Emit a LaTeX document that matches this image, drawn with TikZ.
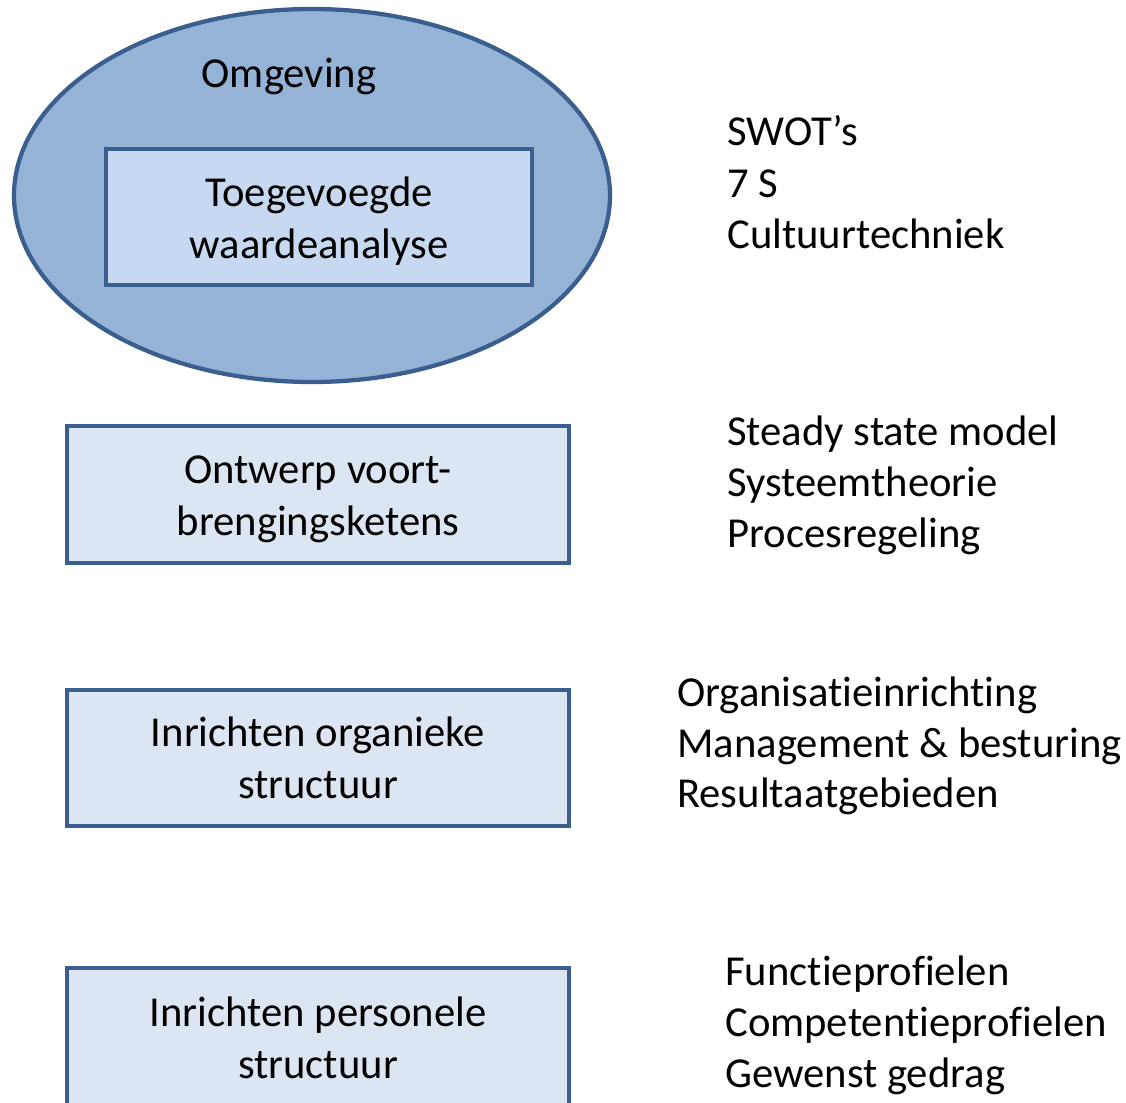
\documentclass[tikz,border=0pt]{standalone}
\usepackage{fontspec}
\setmainfont{Carlito}[Ligatures={NoCommon,NoRare}]
\usetikzlibrary{shapes.geometric}
\definecolor{edgeblue}{HTML}{3A5F8E}
\definecolor{ellfill}{HTML}{95B3D7}
\definecolor{innerfill}{HTML}{C6D9F1}
\definecolor{boxfill}{HTML}{DCE6F2}
\tikzset{
  bigtext/.style={font=\fontsize{32}{39}\selectfont},
  boxlabel/.style={bigtext, align=center, inner sep=0pt, yshift=-2.6pt},
  stepbox/.style={draw=edgeblue, line width=3.2pt, fill=boxfill, rectangle,
    minimum width=376.5pt, minimum height=102.75pt, inner sep=0pt},
  listitem/.style={anchor=base west, inner sep=0pt, bigtext},
}
\begin{document}
\begin{tikzpicture}[x=0.75pt, y=-0.75pt]
\useasboundingbox (0,0) rectangle (1126,1102);
% environment ellipse
\node[ellipse, draw=edgeblue, line width=3.2pt, fill=ellfill,
  minimum width=447pt, minimum height=279.75pt, inner sep=0pt] (omg) at (312,195.5) {};
\node[bigtext, anchor=base, inner sep=0pt] (omgtxt) at (289,87.5) {Omgeving};
\node[stepbox, fill=innerfill, minimum width=319.5pt, minimum height=102pt,
  label={[boxlabel, yshift=-0.6pt]center:Toegevoegde\\waardeanalyse}] (twa) at (319,217) {};
\node[stepbox, label={[boxlabel, yshift=-0.8pt]center:Ontwerp voort-\\brengingsketens}] (ovk) at (318,494.5) {};
\node[stepbox, minimum height=102pt,
  label={[boxlabel, yshift=2.4pt]center:Inrichten organieke\\structuur}] (ios) at (318,758) {};
\node[stepbox, label={[boxlabel, yshift=1.8pt]center:Inrichten personele\\structuur}] (ips) at (318,1036.5) {};
% right-hand lists
\node[listitem] (l1a) at (727,145.5) {SWOT’s};
\node[listitem] (l1b) at (727,197) {7 S};
\node[listitem] (l1c) at (727,248.5) {Cultuurtechniek};
\node[listitem] (l2a) at (727,445) {Steady state model};
\node[listitem] (l2b) at (727,496) {Systeemtheorie};
\node[listitem] (l2c) at (727,547.5) {Procesregeling};
\node[listitem] (l3a) at (677,706) {Organisatieinrichting};
\node[listitem] (l3b) at (677,757) {Management \& besturing};
\node[listitem] (l3c) at (677,807) {Resultaatgebieden};
\node[listitem] (l4a) at (725,985) {Functieprofielen};
\node[listitem] (l4b) at (725,1036) {Competentieprofielen};
\node[listitem] (l4c) at (725,1087) {Gewenst gedrag};
\end{tikzpicture}
\end{document}
